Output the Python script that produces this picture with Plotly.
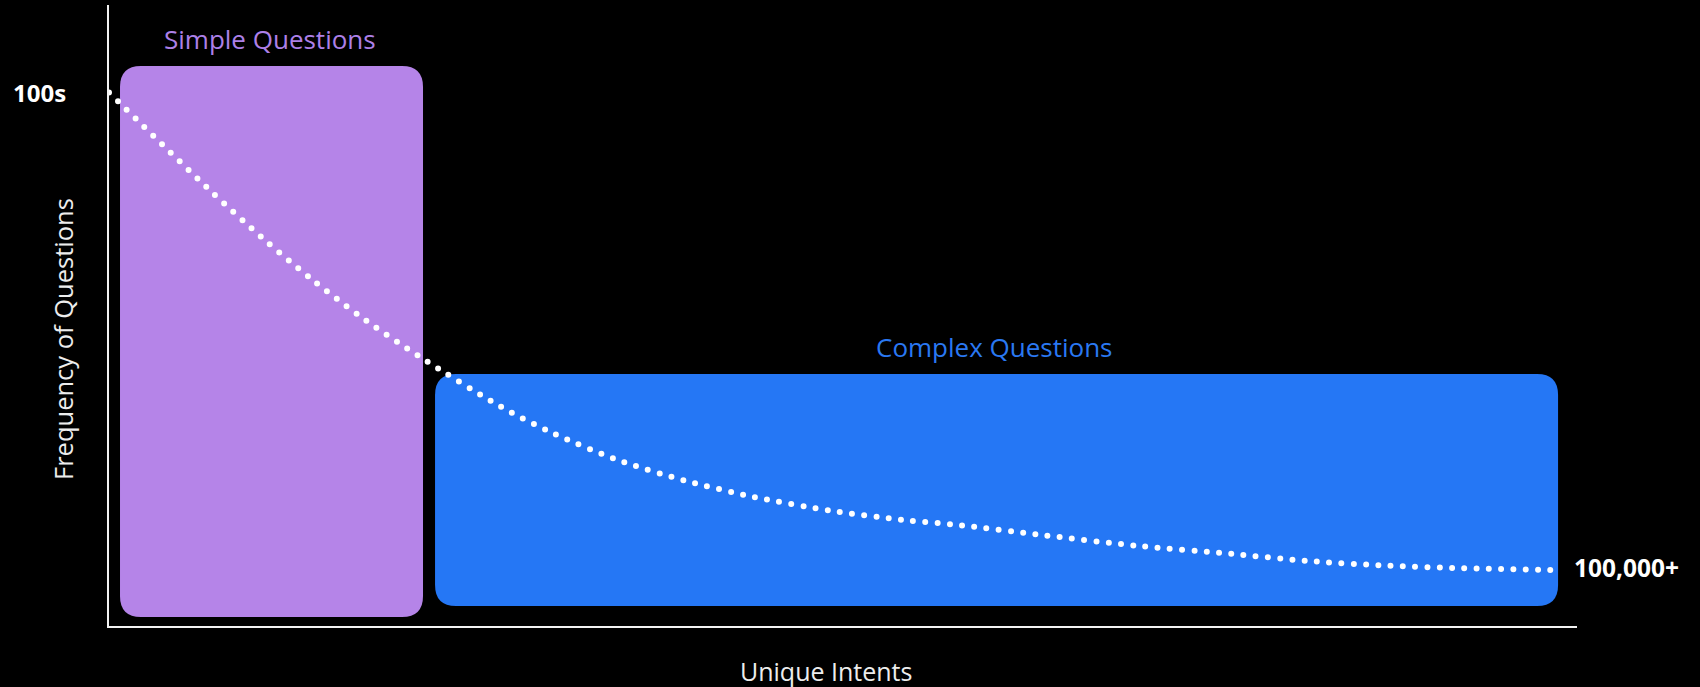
import plotly.graph_objects as go

# Long-tail curve: how often questions are asked vs. the number of unique intents
intent_rank = [0, 6.68, 10.44, 13.67, 17.03, 21.21, 26.70, 30.29, 34.69, 39.26, 43.89,
               49.34, 54.04, 58.09, 63.71, 70.10, 76.52, 81.52, 87.19, 92.19, 98.57]
frequency = [85.9, 70.6, 62.5, 56.1, 50.0, 43.3, 35.3, 31.0, 26.7, 23.4, 20.8,
             18.5, 17.1, 16.2, 14.6, 12.9, 11.6, 10.5, 9.7, 9.3, 9.0]

# Question groups along the intent axis
group_names = ["Simple Questions", "Complex Questions"]
group_x0 = [0.75, 22.21]
group_x1 = [21.39, 98.71]
group_y0 = [1.45, 3.22]
group_y1 = [90.18, 40.58]
group_colors = ["#B584E8", "#2577F5"]
group_label_colors = ["#AD80E8", "#2A78F2"]

# End labels of the curve
head_label = "100s"
tail_label = "100,000+"

W, H = 1700, 687
M = dict(l=109, r=123, t=5, b=61)
plot_w = W - M["l"] - M["r"]
plot_h = H - M["t"] - M["b"]
X_RANGE = [0, 100]
Y_RANGE = [0, 100]
px_per_x = plot_w / (X_RANGE[1] - X_RANGE[0])
px_per_y = plot_h / (Y_RANGE[1] - Y_RANGE[0])

FONT = "Open Sans"


def rounded_rect(x0, x1, y0, y1, radius_px):
    rx = radius_px / px_per_x
    ry = radius_px / px_per_y
    return (
        f"M {x0 + rx},{y0} L {x1 - rx},{y0} Q {x1},{y0} {x1},{y0 + ry} "
        f"L {x1},{y1 - ry} Q {x1},{y1} {x1 - rx},{y1} "
        f"L {x0 + rx},{y1} Q {x0},{y1} {x0},{y1 - ry} "
        f"L {x0},{y0 + ry} Q {x0},{y0} {x0 + rx},{y0} Z"
    )


fig = go.Figure()

fig.add_trace(go.Scatter(
    x=intent_rank, y=frequency, mode="lines",
    line=dict(color="white", width=6, dash="0px,12.3px", shape="spline", smoothing=0.8),
    cliponaxis=False, hoverinfo="skip",
))

shapes = []
annotations = []
for name, x0, x1, y0, y1, col, lcol in zip(group_names, group_x0, group_x1, group_y0,
                                            group_y1, group_colors, group_label_colors):
    shapes.append(dict(type="path", xref="x", yref="y", layer="below",
                       path=rounded_rect(x0, x1, y0, y1, 21),
                       fillcolor=col, line=dict(width=0)))
    annotations.append(dict(x=(x0 + x1) / 2, y=y1, xref="x", yref="y", text=name,
                            showarrow=False, yanchor="middle", yshift=27, xshift=-2,
                            font=dict(family=FONT, size=26, color=lcol)))

annotations.append(dict(x=intent_rank[0], y=frequency[0], xref="x", yref="y",
                        text=f"<b>{head_label}</b>", showarrow=False,
                        xanchor="right", yanchor="middle", xshift=-41,
                        font=dict(family=FONT, size=24, color="white")))
annotations.append(dict(x=intent_rank[-1], y=frequency[-1], xref="x", yref="y",
                        text=f"<b>{tail_label}</b>", showarrow=False,
                        xanchor="left", yanchor="middle", xshift=16, yshift=3,
                        font=dict(family=FONT, size=24.5, color="white")))

# Axis titles
annotations.append(dict(x=(826 - M["l"]) / plot_w, y=-(671 - (M["t"] + plot_h)) / plot_h,
                        xref="paper", yref="paper", text="Unique Intents",
                        showarrow=False, xanchor="center", yanchor="middle",
                        font=dict(family=FONT, size=25, color="#EDEDED")))
annotations.append(dict(x=(63 - M["l"]) / plot_w, y=(M["t"] + plot_h - 339) / plot_h,
                        xref="paper", yref="paper", text="Frequency of Questions",
                        showarrow=False, textangle=-90, xanchor="center", yanchor="middle",
                        font=dict(family=FONT, size=25.5, color="#EDEDED")))

axis_style = dict(showgrid=False, zeroline=False, showticklabels=False, ticks="",
                  showline=True, linecolor="#F2F2F2", linewidth=2, fixedrange=True)

fig.update_layout(
    width=W, height=H, margin=M,
    paper_bgcolor="black", plot_bgcolor="black",
    showlegend=False,
    xaxis=dict(range=X_RANGE, **axis_style),
    yaxis=dict(range=Y_RANGE, **axis_style),
    shapes=shapes, annotations=annotations,
)

round_caps = (
    "var s=document.createElement('style');"
    "s.textContent='.scatterlayer .js-line{stroke-linecap:round !important;}';"
    "document.head.appendChild(s);"
)

fig.write_html("out.html", post_script=round_caps, config={"displayModeBar": False})
